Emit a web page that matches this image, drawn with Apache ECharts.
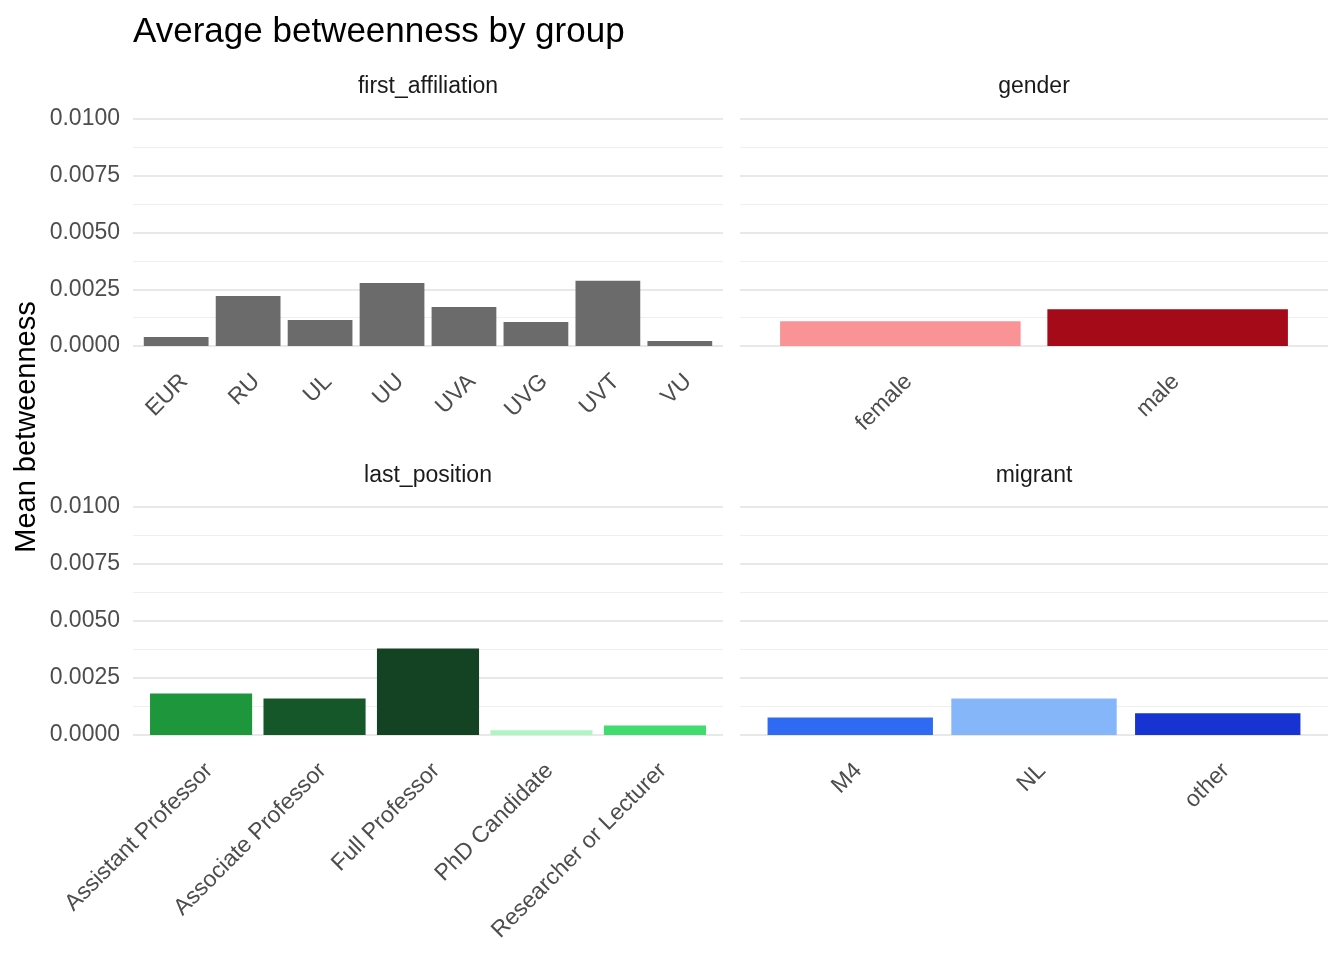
<!DOCTYPE html>
<html><head><meta charset="utf-8">
<script src="https://cdn.jsdelivr.net/npm/echarts@6/dist/echarts.min.js"></script>
<style>html,body{margin:0;padding:0;background:#fff}#c{width:1344px;height:960px}</style>
</head><body><div id="c"></div>
<script>
const affCats = ['EUR','RU','UL','UU','UVA','UVG','UVT','VU'];
const affVals = [0.00040,0.00220,0.00115,0.00278,0.00172,0.00106,0.00287,0.00022];
const affColors = ['#6b6b6b','#6b6b6b','#6b6b6b','#6b6b6b','#6b6b6b','#6b6b6b','#6b6b6b','#6b6b6b'];
const genCats = ['female','male'];
const genVals = [0.00109,0.00162];
const genColors = ['#f99396','#a50a18'];
const posCats = ['Assistant Professor','Associate Professor','Full Professor','PhD Candidate','Researcher or Lecturer'];
const posVals = [0.00182,0.00160,0.00379,0.00021,0.00042];
const posColors = ['#1e963c','#165729','#144324','#aef5c4','#41db6f'];
const migCats = ['M4','NL','other'];
const migVals = [0.00077,0.00160,0.00095];
const migColors = ['#2f6af2','#85b6fa','#1733d1'];
const panelNames = ['first_affiliation','gender','last_position','migrant'];

const panels = [
  {cats: affCats, vals: affVals, colors: affColors},
  {cats: genCats, vals: genVals, colors: genColors},
  {cats: posCats, vals: posVals, colors: posColors},
  {cats: migCats, vals: migVals, colors: migColors}
];
const font = 'Liberation Sans, Arial, Helvetica, sans-serif';
const outer = [
  {left: 133, width: 590, top: 119, height: 227},
  {left: 740, width: 588, top: 119, height: 227},
  {left: 133, width: 590, top: 507, height: 228},
  {left: 740, width: 588, top: 507, height: 228}
];
// ggplot-style discrete expansion: 0.6 units each side instead of 0.5
const inner = outer.map((g, i) => {
  const n = panels[i].cats.length;
  const unit = g.width / (n + 0.2);
  return {left: g.left + 0.1 * unit, width: g.width - 0.2 * unit, top: g.top, height: g.height};
});
const chart = echarts.init(document.getElementById('c'));
const xAxes = [], yAxes = [], series = [];
panels.forEach((p, i) => {
  xAxes.push({type: 'value', gridIndex: i, show: false, min: 0, max: 1});
  yAxes.push({
    type: 'value', gridIndex: i, min: 0, max: 0.01, interval: 0.0025,
    axisLine: {show: false}, axisTick: {show: false},
    axisLabel: {show: i % 2 === 0, fontFamily: font, fontSize: 23, color: '#4d4d4d', margin: 13,
      padding: [4, 0, 0, 0], formatter: v => v.toFixed(4)},
    splitLine: {lineStyle: {color: '#e8e8e8', width: 1.8}},
    minorTick: {show: false, splitNumber: 2},
    minorSplitLine: {show: true, lineStyle: {color: '#efefef', width: 1}}
  });
});
panels.forEach((p, i) => {
  xAxes.push({
    type: 'category', gridIndex: 4 + i, data: p.cats,
    axisLine: {show: false}, axisTick: {show: false},
    axisLabel: {rotate: 45, fontFamily: font, fontSize: 23, color: '#4d4d4d', margin: 24,
      interval: 0, align: 'right', verticalAlign: 'top'}
  });
  yAxes.push({type: 'value', gridIndex: 4 + i, min: 0, max: 0.01, show: false, splitLine: {show: false}});
  series.push({
    type: 'bar', xAxisIndex: 4 + i, yAxisIndex: 4 + i, barCategoryGap: '10%',
    data: p.vals.map((v, j) => ({value: v, itemStyle: {color: p.colors[j]}}))
  });
});
const graphics = [{
  type: 'text', x: 27, y: 427, rotation: Math.PI / 2,
  style: {text: 'Mean betweenness', fontFamily: font, fontSize: 29, fill: '#000', align: 'center', verticalAlign: 'middle'}
}, {
  type: 'text', x: 133, y: 32,
  style: {text: 'Average betweenness by group', fontFamily: font, fontSize: 35, fill: '#000', align: 'left', verticalAlign: 'middle'}
}].concat(panelNames.map((n, i) => ({
  type: 'text', x: outer[i].left + outer[i].width / 2, y: i < 2 ? 87 : 476,
  style: {text: n, fontFamily: font, fontSize: 23, fill: '#1a1a1a', align: 'center', verticalAlign: 'middle'}
})));
const option = {
  backgroundColor: '#fff',
  animation: false,
  grid: outer.concat(inner),
  xAxis: xAxes,
  yAxis: yAxes,
  series: series,
  graphic: graphics
};
chart.setOption(option);
</script></body></html>
